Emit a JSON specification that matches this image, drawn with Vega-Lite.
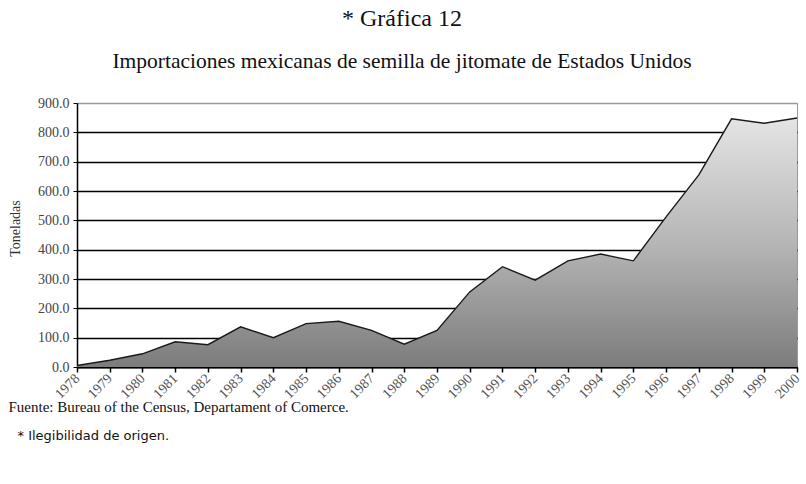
{
  "$schema": "https://vega.github.io/schema/vega-lite/v6.json",
  "width": 720,
  "height": 264,
  "autosize": {"type": "none"},
  "padding": {"left": 77, "top": 103, "right": 9, "bottom": 117},
  "background": "white",
  "title": {
    "text": "* Gráfica 12",
    "subtitle": "Importaciones mexicanas de semilla de jitomate de Estados Unidos",
    "anchor": "middle",
    "dx": -35,
    "font": "Liberation Serif",
    "fontSize": 24,
    "fontWeight": "normal",
    "color": "#111",
    "subtitleFont": "Liberation Serif",
    "subtitleFontSize": 21.5,
    "subtitleColor": "#111",
    "subtitlePadding": 20,
    "offset": 24
  },
  "data": {
    "values": [
      {"year": 1978, "toneladas": 5},
      {"year": 1979, "toneladas": 23},
      {"year": 1980, "toneladas": 45},
      {"year": 1981, "toneladas": 86},
      {"year": 1982, "toneladas": 76},
      {"year": 1983, "toneladas": 137},
      {"year": 1984, "toneladas": 100},
      {"year": 1985, "toneladas": 148},
      {"year": 1986, "toneladas": 156},
      {"year": 1987, "toneladas": 125},
      {"year": 1988, "toneladas": 78},
      {"year": 1989, "toneladas": 125},
      {"year": 1990, "toneladas": 256},
      {"year": 1991, "toneladas": 342},
      {"year": 1992, "toneladas": 296},
      {"year": 1993, "toneladas": 362},
      {"year": 1994, "toneladas": 385},
      {"year": 1995, "toneladas": 362},
      {"year": 1996, "toneladas": 512},
      {"year": 1997, "toneladas": 655},
      {"year": 1998, "toneladas": 846},
      {"year": 1999, "toneladas": 831},
      {"year": 2000, "toneladas": 849}
    ]
  },
  "layer": [
    {
      "mark": {
        "type": "area",
        "color": {
          "gradient": "linear",
          "x1": 0, "y1": 0, "x2": 0, "y2": 1,
          "stops": [
            {"offset": 0, "color": "#e4e4e4"},
            {"offset": 0.5, "color": "#b6b6b6"},
            {"offset": 1, "color": "#7c7c7c"}
          ]
        }
      },
      "encoding": {
        "x": {
          "field": "year",
          "type": "quantitative",
          "scale": {"domain": [1978, 2000], "nice": false, "zero": false},
          "axis": {
            "orient": "bottom",
            "values": [1978,1979,1980,1981,1982,1983,1984,1985,1986,1987,1988,1989,1990,1991,1992,1993,1994,1995,1996,1997,1998,1999,2000],
            "format": "d",
            "grid": false,
            "labelAngle": -45,
            "labelAlign": "right",
            "labelBaseline": "middle",
            "labelFont": "Liberation Serif",
            "labelFontSize": 14,
            "labelColor": "#555",
            "labelPadding": 4,
            "labelOverlap": false,
            "domainColor": "black",
            "domainWidth": 2,
            "tickColor": "black",
            "tickSize": 5,
            "tickWidth": 1.5,
            "title": "Fuente: Bureau of the Census, Departament of Comerce.",
            "titleFont": "Liberation Serif",
            "titleFontSize": 15,
            "titleFontWeight": "normal",
            "titleColor": "#111",
            "titleAnchor": "start",
            "titleAlign": "left",
            "titleBaseline": "alphabetic",
            "titleX": -69,
            "titleY": 44
          }
        },
        "y": {
          "field": "toneladas",
          "type": "quantitative",
          "scale": {"domain": [0, 900], "nice": false},
          "axis": {
            "values": [0,100,200,300,400,500,600,700,800,900],
            "tickCount": 10,
            "labelOverlap": false,
            "format": ".1f",
            "grid": true,
            "gridColor": {"condition": {"test": "datum.value == 900", "value": "#999"}, "value": "black"},
            "gridWidth": 1.5,
            "domainColor": "black",
            "domainWidth": 1.5,
            "tickColor": "black",
            "tickSize": 4,
            "labelFont": "Liberation Serif",
            "labelFontSize": 14,
            "labelColor": "#444",
            "labelPadding": 4,
            "title": "Toneladas",
            "titleFont": "Liberation Serif",
            "titleFontSize": 14,
            "titleFontWeight": "normal",
            "titleColor": "#333",
            "titleAngle": -90,
            "titleAlign": "center",
            "titleBaseline": "middle",
            "titleX": -62,
            "titleY": 125
          }
        }
      }
    },
    {
      "mark": {"type": "line", "color": "#1a1a1a", "strokeWidth": 1.4},
      "encoding": {
        "x": {
          "field": "year",
          "type": "quantitative",
          "axis": {
            "orient": "bottom",
            "labels": false,
            "ticks": false,
            "domain": false,
            "grid": false,
            "title": "* Ilegibilidad de origen.",
            "titleFont": "DejaVu Sans",
            "titleFontSize": 13,
            "titleFontWeight": "normal",
            "titleColor": "#111",
            "titleAnchor": "start",
            "titleAlign": "left",
            "titleBaseline": "alphabetic",
            "titleX": -60,
            "titleY": 72
          }
        },
        "y": {
          "field": "toneladas",
          "type": "quantitative",
          "axis": {
            "values": [0,100,200,300,400,500,600,700,800,900],
            "tickCount": 10,
            "labelOverlap": false,
            "format": ".1f"
          }
        }
      }
    }
  ],
  "resolve": {"axis": {"x": "independent"}},
  "config": {
    "view": {"stroke": "#999", "strokeWidth": 1}
  }
}
